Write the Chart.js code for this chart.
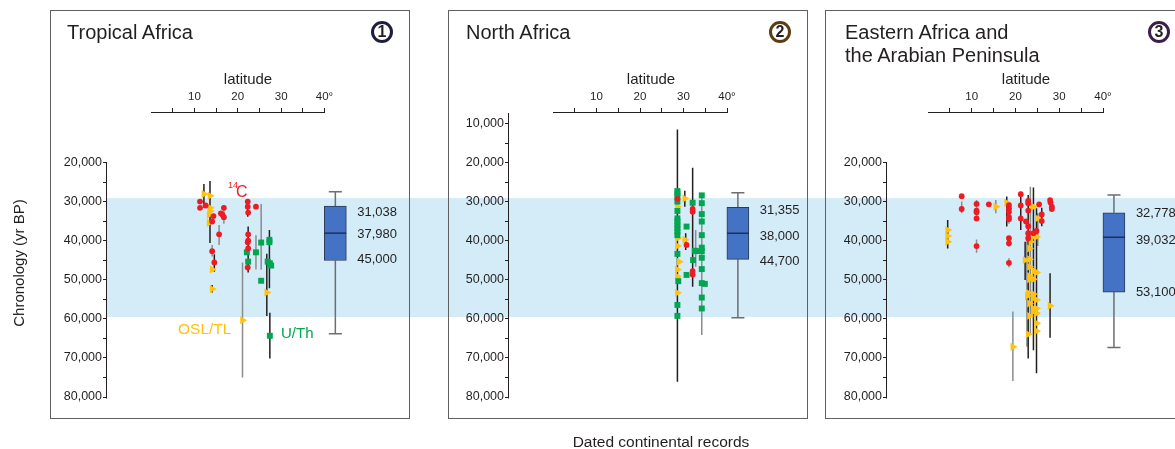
<!DOCTYPE html>
<html>
<head>
<meta charset="utf-8">
<script src="https://cdn.jsdelivr.net/npm/chart.js@4.4.1/dist/chart.umd.min.js"></script>
<style>
html,body{margin:0;padding:0;background:#fff;}
body{width:1175px;height:449px;position:relative;overflow:hidden;font-family:"Liberation Sans",Arial,sans-serif;color:#231f20;}
canvas{position:absolute;top:0;}
.frame{position:absolute;top:10px;height:409px;border:1px solid #5f6062;box-sizing:border-box;z-index:2;}
.title{position:absolute;top:21px;font-size:20px;line-height:23px;white-space:nowrap;z-index:3;}
.num{position:absolute;top:21px;width:22px;height:22px;border-radius:50%;box-sizing:border-box;border:3px solid #1e1e3f;font-size:16px;font-weight:bold;text-align:center;line-height:16px;z-index:3;}
.txt{position:absolute;white-space:nowrap;z-index:3;}
</style>
</head>
<body>
<canvas id="c1" width="428" height="449" style="left:0px"></canvas>
<canvas id="c2" width="388" height="449" style="left:428px"></canvas>
<canvas id="c3" width="359" height="449" style="left:816px"></canvas>

<div class="frame" style="left:50px;width:360px"></div>
<div class="frame" style="left:448px;width:360px"></div>
<div class="frame" style="left:825px;width:400px"></div>

<div class="title" style="left:67px">Tropical Africa</div>
<div class="title" style="left:466px">North Africa</div>
<div class="title" style="left:845px">Eastern Africa and<br>the Arabian Peninsula</div>

<div class="num" style="left:371px;border-color:#1e1e3f">1</div>
<div class="num" style="left:769px;border-color:#5b3d14">2</div>
<div class="num" style="left:1148px;border-color:#3b1f4a">3</div>

<div class="txt" style="left:228px;top:180px;font-size:9px;line-height:10px;color:#ed1c24">14</div>
<div class="txt" style="left:236px;top:184px;font-size:16px;line-height:16px;color:#ed1c24">C</div>
<div class="txt" style="left:178px;top:321px;font-size:15.5px;line-height:16px;color:#ffc20e">OSL/TL</div>
<div class="txt" style="left:281px;top:325px;font-size:15px;line-height:16px;color:#00a651">U/Th</div>

<div class="txt" style="left:-81px;top:255px;width:200px;text-align:center;font-size:15px;line-height:16px;transform:rotate(-90deg);">Chronology (yr BP)</div>
<div class="txt" style="left:461px;top:434px;width:400px;text-align:center;font-size:15.5px;line-height:16px;">Dated continental records</div>

<script>
// ---------------- DATA ----------------
// shaded interval (yr BP)
const BAND = [29000, 59500];

// latitude axis ticks / labels
const LAT_TICKS  = [5, 10, 15, 20, 25, 30, 35, 40];
const LAT_LABELS = ['', '10', '', '20', '', '30', '', '40°'];

// chronology ticks
const Y_TICKS_A = [20000,25000,30000,35000,40000,45000,50000,55000,60000,65000,70000,75000,80000];
const Y_TICKS_B = [10000,15000,20000,25000,30000,35000,40000,45000,50000,55000,60000,65000,70000,75000,80000];

// Panel 1 - Tropical Africa  [latitude, age]
const P1_C14 = [[11.3,29900],[11.3,31500],[12.6,30900],[14.4,33600],[14.1,35000],[16.1,32900],[16.5,33300],[16.8,31500],[16.8,33900],[15.7,38300],[14.1,42600],[14.6,45500],
  [22.3,29900],[22.3,31200],[22.4,32700],[24.2,31200],[22.4,38300],[22.4,39900],[22.3,40300],[22.4,41900],[22.3,46800]];
const P1_OSL = [[12.2,27950],[13.6,28400],[13.6,31500],[13.6,32300],[13.4,33300],[13.4,35300],[14.1,47300],[14.1,52300],[21.1,60300],[26.7,53200]];
const P1_UTH = [[25.4,40400],[25.4,50200],[22.1,42900],[22.4,45300],[24.2,42900],[27.3,39700],[27.3,40300],[26.9,45300],[27.4,45700],[27.7,46300],[27.4,64300]];
// error bars [latitude, from, to]
const P1_ERR_DARK = [[12.2,25400,31500],[13.6,24600,40500],[14.6,43400,47900],[14.1,51300,53200],[22.4,36300,48100],[22.3,29200,33800],[27.3,37200,52100],[26.7,43300,59200],[27.4,58400,70100]];
const P1_ERR_GREY = [[16.8,30800,35600],[15.7,35900,41000],[14.1,41000,44000],[25.4,30500,47400],[24.2,38500,47300],[21.1,45500,75000]];
// box: [upper whisker, q1, median, q3, lower whisker]
const P1_BOX = [27400, 31038, 37980, 45000, 63800];

// Panel 2 - North Africa
const P2_C14 = [[28.6,29200],[30.7,41000],[32.1,31800],[32.1,32500],[32.1,47700],[32.1,48600]];
const P2_OSL = [[28.6,31200],[28.6,39300],[28.6,41300],[29.0,45300],[28.6,47300],[28.6,49100],[28.6,53300],[30.3,29100],[30.3,39700]];
const P2_UTH = [[28.6,27200],[28.6,27800],[28.6,28600],[28.6,29900],[28.6,32300],[28.6,34200],[28.6,35000],[28.6,35900],[28.6,36700],[28.6,37600],[28.6,38500],[28.6,43300],[28.8,50300],[28.6,56400],[28.6,59200],
  [30.7,36300],[30.7,48700],[32.1,30200],[32.2,44900],[32.6,42500],[33.1,42600],
  [34.2,28300],[34.2,30300],[34.2,33100],[34.2,35000],[34.2,38500],[34.2,41700],[34.2,42600],[34.2,44300],[34.2,47200],[34.2,50800],[34.9,51000],[34.2,54500],[34.2,57300]];
const P2_ERR_DARK = [[28.6,11400,76100],[30.3,27100,31200],[30.5,38000,42300],[32.1,21200,51700]];
const P2_ERR_GREY = [[32.8,37200,46600],[34.2,27700,64100]];
const P2_BOX = [27600, 31355, 38000, 44700, 59700];

// Panel 3 - Eastern Africa and the Arabian Peninsula
const P3_C14 = [[7.7,28500],[7.7,31800],
  [11.1,30500],[11.1,32200],[11.1,32600],[11.1,34200],[11.1,41300],
  [13.9,30600],
  [18.5,30800],[18.5,31600],[18.5,32500],[18.5,33800],[18.5,34400],[18.5,39300],[18.5,40600],[18.5,45600],
  [21.2,28000],[21.2,30900],[21.2,34200],
  [22.9,29700],[22.9,30300],[22.9,32200],[22.4,35000],[22.9,36200],[22.9,38000],[22.9,39300],
  [24.8,37400],[24.1,38000],[25.4,30600],[26.0,33200],[26.0,34900],
  [27.9,29500],[28.0,30100],[28.3,31200],[28.3,31800]];
const P3_OSL = [[4.5,37200],[4.5,38700],[4.5,40200],
  [15.5,31200],[18.0,30200],
  [23.7,31200],[24.1,31200],[25.0,34200],[24.1,38900],[24.8,38900],[23.5,40200],[23.2,41900],[22.2,44900],[23.2,44700],[23.2,46600],[24.3,47700],[24.8,48100],[23.2,49000],[23.2,49800],[24.1,49800],
  [22.9,53300],[22.7,54100],[24.1,53600],[24.1,54700],[24.8,55100],[23.2,56000],[24.1,57300],[24.8,57300],[24.1,58100],[24.8,58500],[23.2,59200],[24.8,61100],[24.8,63100],[22.9,63900],
  [19.4,67100],[27.9,56600]];
const P3_UTH = [];
const P3_ERR_DARK = [[4.5,34600,41900],[18.0,28600,36300],[21.2,27400,37200],[22.9,28200,70100],[24.1,26300,68000],[24.8,31600,73900],[22.2,40200,50000],[27.9,48300,64800],[26.0,31500,36200]];
const P3_ERR_GREY = [[7.7,29900,32900],[11.1,29500,35000],[11.1,39600,43000],[15.5,29500,32900],[18.5,30300,35600],[18.5,38700,41500],[18.5,44400,46700],[23.4,26100,63700],[22.6,38000,67100],[19.4,58100,75900],[25.1,32800,41300]];
const P3_BOX = [28200, 32778, 39032, 53100, 67300];

// ---------------- STYLE ----------------
const FONT = '"Liberation Sans", Arial, sans-serif';
const INK = '#231f20';
const COL = {c14:'#ed1c24', osl:'#ffc20e', uth:'#00a651', dark:'#231f20', grey:'#8a8c8e',
  band:'#d3ecf8', box:'#4472c4', boxEdge:'#2c3a58', whisk:'#6d6e71', median:'#1b2740'};
const BOX_X = 42.5, BOX_L = 40, BOX_R = 45, CAP_L = 41, CAP_R = 44;

function pts(list){ return list.map(([x,y]) => ({x, y})); }
function vsegs(list){ const out = []; list.forEach(([x,a,b]) => { out.push({x, y:a}, {x, y:b}, {x, y:null}); }); return out; }

function decor(p){
  return {
    id: 'decor',
    beforeDraw(chart){
      const {ctx, chartArea, scales:{y}} = chart;
      const yA = y.getPixelForValue(BAND[0]), yB = y.getPixelForValue(BAND[1]);
      const x0 = p.bandFromAxis ? chartArea.left : 0;
      ctx.save();
      ctx.fillStyle = COL.band;
      ctx.fillRect(x0, yA, chart.width - x0, yB - yA);
      ctx.restore();
    },
    beforeDatasetsDraw(chart){
      const {ctx, chartArea, scales:{x, y}} = chart;
      ctx.save();
      ctx.strokeStyle = INK; ctx.lineWidth = 1;
      ctx.beginPath();
      const ly = Math.round(chartArea.top) - 0.5;
      ctx.moveTo(x.getPixelForValue(0), ly);
      ctx.lineTo(x.getPixelForValue(40) + 0.5, ly);
      const ax = Math.round(chartArea.left) - 0.5;
      ctx.moveTo(ax, y.getPixelForValue(p.axisTop));
      ctx.lineTo(ax, y.getPixelForValue(80000) + 1.5);
      ctx.stroke();
      ctx.restore();
    },
    afterDatasetsDraw(chart){
      const {ctx, scales:{x, y}} = chart;
      ctx.save();
      ctx.font = '13px ' + FONT;
      ctx.fillStyle = INK; ctx.textBaseline = 'middle'; ctx.textAlign = 'left';
      const lx = x.getPixelForValue(BOX_R) + 11;
      [p.box[1], p.box[2], p.box[3]].forEach((v, i) => {
        ctx.fillText(v.toLocaleString('en-US'), lx, y.getPixelForValue(v) + p.labelDy[i]);
      });
      ctx.restore();
    }
  };
}

function build(p){
  const [wTop, q1, med, q3, wBot] = p.box;
  const whisk = [{x:BOX_X,y:wTop},{x:BOX_X,y:q1},{x:BOX_X,y:null},
                 {x:BOX_X,y:q3},{x:BOX_X,y:wBot},{x:BOX_X,y:null},
                 {x:CAP_L,y:wTop},{x:CAP_R,y:wTop},{x:CAP_R,y:null},
                 {x:CAP_L,y:wBot},{x:CAP_R,y:wBot}];
  const datasets = [
    {type:'line', data:vsegs(p.errGrey), borderColor:COL.grey, borderWidth:1.5, pointRadius:0, fill:false, spanGaps:false, order:9},
    {type:'line', data:vsegs(p.errDark), borderColor:COL.dark, borderWidth:1.5, pointRadius:0, fill:false, spanGaps:false, order:8},
    {type:'line', data:whisk, borderColor:COL.whisk, borderWidth:1.5, pointRadius:0, fill:false, spanGaps:false, order:7},
    {type:'bar', data:[{x:BOX_X, y:[q1, q3]}], backgroundColor:COL.box, borderColor:COL.boxEdge, borderWidth:1, borderSkipped:false, barThickness:22, grouped:false, order:6},
    {type:'line', data:[{x:BOX_L,y:med},{x:BOX_R,y:med}], borderColor:COL.median, borderWidth:1.3, pointRadius:0, fill:false, order:5},
    {type:'scatter', data:pts(p.osl), pointStyle:'triangle', pointRotation:90, pointRadius:4.6, pointBackgroundColor:COL.osl, pointBorderWidth:0, order:4},
    {type:'scatter', data:pts(p.uth), pointStyle:'rect', pointRadius:4.2, pointBackgroundColor:COL.uth, pointBorderWidth:0, order:3},
    {type:'scatter', data:pts(p.c14), pointStyle:'circle', pointRadius:2.9, pointBackgroundColor:COL.c14, pointBorderWidth:0, order:2}
  ];
  new Chart(document.getElementById(p.id), {
    type:'scatter',
    data:{datasets},
    options:{
      responsive:false, animation:false, events:[],
      layout:{padding:{left:0, top:0, right:p.padRight, bottom:52}},
      plugins:{legend:{display:false}, tooltip:{enabled:false}},
      scales:{
        x:{type:'linear', position:'top', min:p.xMin, max:p.xMax, offset:false,
          afterBuildTicks: s => { s.ticks = LAT_TICKS.map(v => ({value:v})); },
          afterFit: s => { s.height = 113; },
          ticks:{autoSkip:false, maxRotation:0, minRotation:0, padding:4, color:INK,
                 font:{family:FONT, size:11.5},
                 callback: v => { const i = LAT_TICKS.indexOf(v); return i >= 0 ? LAT_LABELS[i] : ''; }},
          grid:{offset:false, drawOnChartArea:false, drawTicks:true, tickLength:5, color:INK, lineWidth:1},
          border:{display:false},
          title:{display:true, text:'latitude', color:INK, font:{family:FONT, size:15}, padding:{top:71, bottom:0}}
        },
        y:{type:'linear', position:'left', reverse:true, min:7180, max:80000, offset:false,
          afterBuildTicks: s => { s.ticks = p.yTicks.map(v => ({value:v})); },
          afterFit: s => { s.width = p.axisW; },
          ticks:{autoSkip:false, padding:1, color:INK, font:{family:FONT, size:12.5},
                 callback: v => (v % 10000 === 0 ? v.toLocaleString('en-US') : '')},
          grid:{drawOnChartArea:false, drawTicks:true, tickLength:4, color:INK, lineWidth:1},
          border:{display:false}
        }
      }
    },
    plugins:[decor(p)]
  });
}

build({id:'c1', c14:P1_C14, osl:P1_OSL, uth:P1_UTH, errDark:P1_ERR_DARK, errGrey:P1_ERR_GREY, box:P1_BOX,
  yTicks:Y_TICKS_A, axisTop:20000, axisW:107, padRight:39, xMin:-10.144, xMax:54.87, bandFromAxis:true, labelDy:[6,1,-1]});
build({id:'c2', c14:P2_C14, osl:P2_OSL, uth:P2_UTH, errDark:P2_ERR_DARK, errGrey:P2_ERR_GREY, box:P2_BOX,
  yTicks:Y_TICKS_B, axisTop:7180, axisW:81, padRight:23, xMin:-10.115, xMax:55.17, bandFromAxis:false, labelDy:[3,3,2]});
build({id:'c3', c14:P3_C14, osl:P3_OSL, uth:P3_UTH, errDark:P3_ERR_DARK, errGrey:P3_ERR_GREY, box:P3_BOX,
  yTicks:Y_TICKS_A, axisTop:20000, axisW:71, padRight:10, xMin:-9.371, xMax:54.17, bandFromAxis:false, labelDy:[1,3,0]});
</script>
</body>
</html>
